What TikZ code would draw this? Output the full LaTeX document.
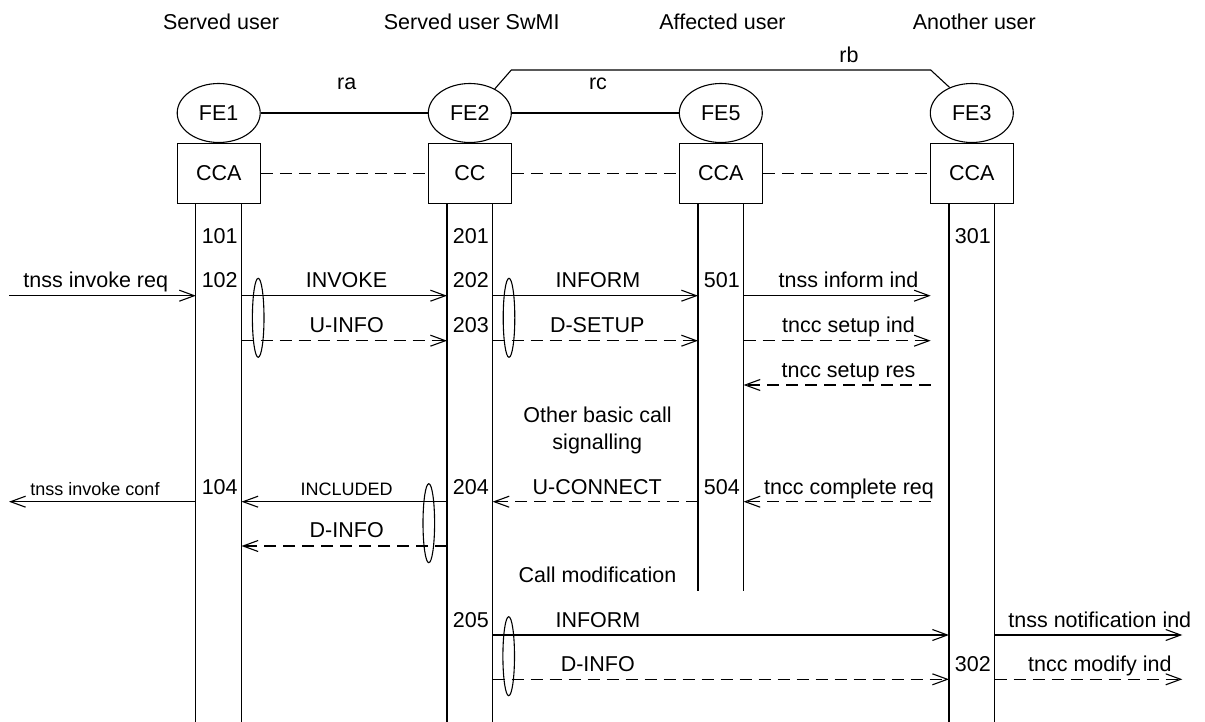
\documentclass[tikz,border=0pt]{standalone}
\usepackage{fontspec}
\setmainfont{Liberation Sans}
\usetikzlibrary{arrows.meta,shapes.geometric}
\begin{document}
\begin{tikzpicture}[x=1pt,y=-1pt,line width=1.1pt,
  fe/.style={ellipse,draw,minimum width=83pt,minimum height=59pt,inner sep=0pt},
  fbox/.style={rectangle,draw,minimum width=83pt,minimum height=59.5pt,inner sep=0pt},
  grp/.style={ellipse,draw,minimum width=11.6pt,minimum height=79pt,inner sep=0pt},
  lab/.style={anchor=base,inner sep=0pt},
  sm/.style={lab,font=\fontsize{18pt}{21pt}\selectfont},
  rel/.style={dash pattern=on 12pt off 7pt},
  msg/.style={-{Straight Barb[length=15pt,width=11pt]}},
  dmsg/.style={msg,dash pattern=on 12pt off 7pt},
  font=\fontsize{21.5pt}{26pt}\selectfont]
\useasboundingbox (0,0) rectangle (1205,722);
% headers
\node[lab] (h1) at (221,30) {Served user};
\node[lab] (h2) at (471.7,30) {Served user SwMI};
\node[lab] (h5) at (722.5,30) {Affected user};
\node[lab] (h3) at (974.3,30) {Another user};
% functional entities
\node[fe] (fe1) at (218.7,113) {FE1};
\node[fe] (fe2) at (469.8,113) {FE2};
\node[fe] (fe5) at (720.8,113) {FE5};
\node[fe] (fe3) at (971.8,113) {FE3};
\node[fbox] (b1) at (218.7,173.5) {CCA};
\node[fbox] (b2) at (469.8,173.5) {CC};
\node[fbox] (b5) at (720.8,173.5) {CCA};
\node[fbox] (b3) at (971.8,173.5) {CCA};
% relationships
\draw (fe1) -- (fe2);
\draw (fe2) -- (fe5);
\draw (fe2.44) -- (511.3,70) -- (930.7,70) -- (fe3.131);
\node[lab] (ra) at (346.7,90) {ra};
\node[lab] (rc) at (598,90) {rc};
\node[lab] (rb) at (849,62.7) {rb};
\draw[rel] (b1) -- (b2);
\draw[rel] (b2) -- (b5);
\draw[rel] (b5) -- (b3);
% lifelines
\coordinate (l1a) at (195.9,203.25);
\coordinate (l1b) at (241.5,203.25);
\coordinate (l2a) at (447,203.25);
\coordinate (l2b) at (492.6,203.25);
\coordinate (l5a) at (698,203.25);
\coordinate (l5b) at (743.6,203.25);
\coordinate (l3a) at (949,203.25);
\coordinate (l3b) at (994.6,203.25);
\coordinate (ext1) at (9,0);
\coordinate (ext3) at (1182.3,0);
\coordinate (m3) at (930.7,0);
\draw (l1a) -- (l1a |- 0,722);
\draw (l1b) -- (l1b |- 0,722);
\draw (l2a) -- (l2a |- 0,722);
\draw (l2b) -- (l2b |- 0,722);
\draw (l5a) -- (l5a |- 0,591);
\draw (l5b) -- (l5b |- 0,591);
\draw (l3a) -- (l3a |- 0,722);
\draw (l3b) -- (l3b |- 0,722);
% state numbers
\node[lab] (n101) at (219.7,243.3) {101};
\node[lab] (n201) at (470.8,243.3) {201};
\node[lab] (n301) at (972.8,243.3) {301};
\node[lab] (n102) at (219.7,287.3) {102};
\node[lab] (n202) at (470.8,287.3) {202};
\node[lab] (n501) at (721.8,287.3) {501};
\node[lab] (n203) at (470.8,332.3) {203};
\node[lab] (n104) at (219.7,494) {104};
\node[lab] (n204) at (470.8,494) {204};
\node[lab] (n504) at (721.8,494) {504};
\node[lab] (n205) at (470.8,627) {205};
\node[lab] (n302) at (972.8,671.7) {302};
% messages
\draw[msg] (ext1 |- 0,295.7) -- (l1a |- 0,295.7);
\draw[msg] (l1b |- 0,295.7) -- (l2a |- 0,295.7);
\draw[dmsg] (l1b |- 0,340.7) -- (l2a |- 0,340.7);
\draw[msg] (l2b |- 0,295.7) -- (l5a |- 0,295.7);
\draw[dmsg] (l2b |- 0,340.7) -- (l5a |- 0,340.7);
\draw[msg] (l5b |- 0,295.7) -- (m3 |- 0,295.7);
\draw[dmsg] (l5b |- 0,340.7) -- (m3 |- 0,340.7);
\draw[dmsg] (m3 |- 0,385) -- (l5b |- 0,385);
\draw[msg] (l1a |- 0,501.7) -- (ext1 |- 0,501.7);
\draw[msg] (l2a |- 0,501.7) -- (l1b |- 0,501.7);
\draw[dmsg] (l2a |- 0,546) -- (l1b |- 0,546);
\draw[dmsg] (l5a |- 0,501.7) -- (l2b |- 0,501.7);
\draw[dmsg] (m3 |- 0,501.7) -- (l5b |- 0,501.7);
\draw[msg] (l2b |- 0,635) -- (l3a |- 0,635);
\draw[dmsg] (l2b |- 0,679.3) -- (l3a |- 0,679.3);
\draw[msg] (l3b |- 0,635) -- (ext3 |- 0,635);
\draw[dmsg] (l3b |- 0,679.3) -- (ext3 |- 0,679.3);
% grouping ellipses
\node[grp] (g1) at (258.2,317.8) {};
\node[grp] (g2) at (509,317.8) {};
\node[grp] (g3) at (428.8,523.2) {};
\node[grp] (g4) at (508.7,656.2) {};
% message labels
\node[lab] (t1) at (95.8,287.3) {tnss invoke req};
\node[lab] (t2) at (346.5,287.3) {INVOKE};
\node[lab] (t3) at (598,287.3) {INFORM};
\node[lab] (t4) at (848.5,287.3) {tnss inform ind};
\node[lab] (t5) at (346.7,332.3) {U-INFO};
\node[lab] (t6) at (597.2,332.3) {D-SETUP};
\node[lab] (t7) at (848.5,332.3) {tncc setup ind};
\node[lab] (t8) at (848.5,377) {tncc setup res};
\node[lab] (t9) at (597.5,422) {Other basic call};
\node[lab] (t10) at (597.3,449.7) {signalling};
\node[sm] (t11) at (95,495) {tnss invoke conf};
\node[sm] (t12) at (346.7,495) {INCLUDED};
\node[lab] (t13) at (597.2,494) {U-CONNECT};
\node[lab] (t14) at (849,494) {tncc complete req};
\node[lab] (t15) at (346.7,537.7) {D-INFO};
\node[lab] (t16) at (597.5,582.7) {Call modification};
\node[lab] (t17) at (598,627) {INFORM};
\node[lab] (t18) at (1099.8,627) {tnss notification ind};
\node[lab] (t19) at (597.8,671.7) {D-INFO};
\node[lab] (t20) at (1099.8,671.7) {tncc modify ind};
\end{tikzpicture}
\end{document}
